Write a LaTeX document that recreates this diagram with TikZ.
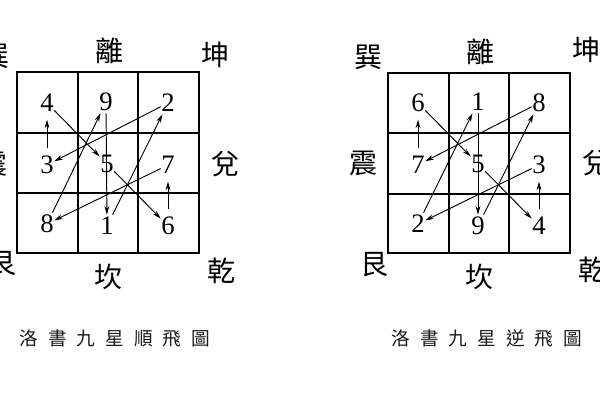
\documentclass[tikz,border=0pt]{standalone}
\usepackage{fontspec}
\setmainfont{Liberation Serif}
\newfontfamily\cjk{Noto Sans CJK TC}
\usetikzlibrary{arrows.meta}
\newcommand{\tsp}{\kern 7.5pt}
\begin{document}
\begin{tikzpicture}[x=0.75pt,y=-0.75pt,
  digit/.style={font=\fontsize{20}{20}\selectfont, inner sep=0pt, minimum width=10.5pt, minimum height=16.5pt},
  gua/.style={font=\cjk\fontsize{21}{21}\selectfont, inner sep=0pt},
  ttl/.style={font=\cjk\fontsize{14}{14}\selectfont, inner sep=0pt, text=black!90},
  gridline/.style={line width=1.5pt},
  flow/.style={line width=0.7pt, -{Stealth[length=6.5pt,width=3.6pt]}},
  shortflow/.style={flow, shorten <=4pt, shorten >=4pt}]
\useasboundingbox (0,0) rectangle (600,400);
\clip (0,0) rectangle (600,400);
\fill[white] (0,0) rectangle (600,400);

% grids
\draw[gridline] (17,72) rectangle (199,253);
\draw[gridline] (78,72) -- (78,253) (138,72) -- (138,253) (17,133) -- (199,133) (17,193) -- (199,193);
\draw[gridline] (388,73) rectangle (570,253);
\draw[gridline] (449,73) -- (449,253) (509,73) -- (509,253) (388,133) -- (570,133) (388,194) -- (570,194);

% left digits
\node[digit] (lnw) at (47,103) {4};
\node[digit] (ln)  at (106,102) {9};
\node[digit] (lne) at (168,103) {2};
\node[digit] (lw)  at (47,165) {3};
\node[digit] (lc)  at (107,164) {5};
\node[digit] (le)  at (168,165) {7};
\node[digit] (lsw) at (47,224) {8};
\node[digit] (ls)  at (107,226) {1};
\node[digit] (lse) at (168,226) {6};

% right digits
\node[digit] (rnw) at (418,103) {6};
\node[digit] (rn)  at (478,102) {1};
\node[digit] (rne) at (539,103) {8};
\node[digit] (rw)  at (418,165) {7};
\node[digit] (rc)  at (478,164) {5};
\node[digit] (re)  at (539,165) {3};
\node[digit] (rsw) at (418,224) {2};
\node[digit] (rs)  at (478,226) {9};
\node[digit] (rse) at (539,226) {4};

% flights
\foreach \p in {l,r}{
  \draw[shortflow] (\p w) -- (\p nw);
  \draw[flow] (\p nw) -- (\p c);
  \draw[flow] (\p c) -- (\p se);
  \draw[shortflow] (\p se) -- (\p e);
  \draw[flow] (\p e) -- (\p sw);
  \draw[flow] (\p sw) -- (\p n);
  \draw[flow] (\p n) -- (\p s);
  \draw[flow] (\p s) -- (\p ne);
  \draw[flow] (\p ne) -- (\p w);
}

% trigram labels left
\node[gua] (lxun) at (-4,56) {巽};
\node[gua] (lli) at (109,51) {離};
\node[gua] (lkun) at (215,55) {坤};
\node[gua] (lzhen) at (-7,164) {震};
\node[gua] (ldui) at (225,164) {兌};
\node[gua] (lgen) at (2,264) {艮};
\node[gua] (lkan) at (108,277) {坎};
\node[gua] (lqian) at (221,271) {乾};

% trigram labels right
\node[gua] (rxun) at (368,57) {巽};
\node[gua] (rli) at (480,52) {離};
\node[gua] (rkun) at (586,50) {坤};
\node[gua] (rzhen) at (363,163) {震};
\node[gua] (rdui) at (596,163) {兌};
\node[gua] (rgen) at (374,265) {艮};
\node[gua] (rkan) at (479,277) {坎};
\node[gua] (rqian) at (592,270) {乾};

% titles
\node[ttl] (lt) at (115,338) {洛\tsp 書\tsp 九\tsp 星\tsp 順\tsp 飛\tsp 圖};
\node[ttl] (rt) at (487,338) {洛\tsp 書\tsp 九\tsp 星\tsp 逆\tsp 飛\tsp 圖};
\end{tikzpicture}
\end{document}
